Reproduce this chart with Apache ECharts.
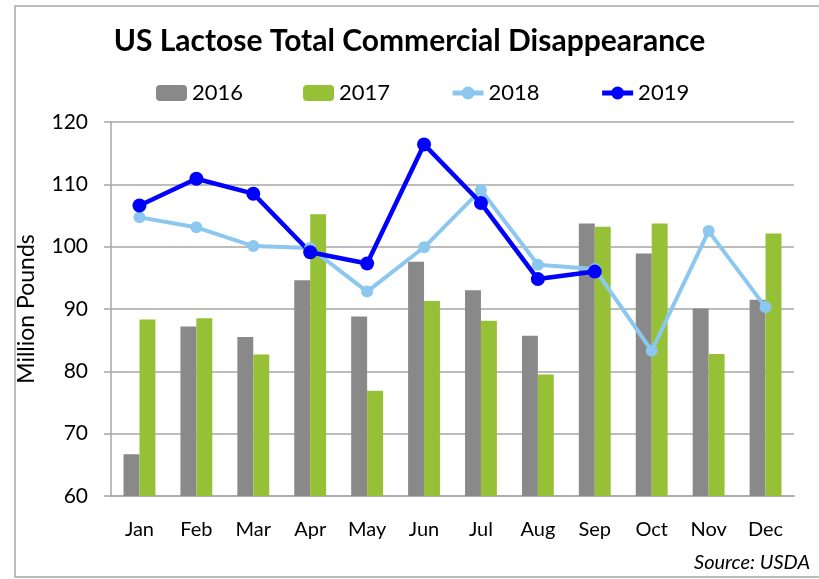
<!DOCTYPE html>
<html lang="en">

<head>
  <meta charset="UTF-8">
  <title>US Lactose Total Commercial Disappearance</title>
  <script src="https://cdn.jsdelivr.net/npm/echarts@6/dist/echarts.min.js"></script>
  <style>
    html, body { margin: 0; padding: 0; background: #fff; }
    #echarts { width: 819px; height: 579px; }
  </style>
</head>

<body>
  <div id="echarts"></div>
</body>

</html>
<script>
  // data (million pounds)
  let months = ['Jan', 'Feb', 'Mar', 'Apr', 'May', 'Jun', 'Jul', 'Aug', 'Sep', 'Oct', 'Nov', 'Dec'];
  let y2016 = [66.7, 87.2, 85.5, 94.6, 88.8, 97.6, 93.0, 85.7, 103.7, 98.9, 90.1, 91.5];
  let y2017 = [88.3, 88.5, 82.7, 105.2, 76.9, 91.3, 88.1, 79.5, 103.2, 103.7, 82.8, 102.1];
  let y2018 = [104.7, 103.1, 100.1, 99.8, 92.8, 99.9, 109.1, 97.1, 96.4, 83.3, 102.5, 90.3];
  let y2019 = [106.6, 110.9, 108.5, 99.1, 97.3, 116.4, 107.0, 94.8, 96.0];
  let yTicks = [60, 70, 80, 90, 100, 110, 120];

  let font = 'Lato, "Open Sans", sans-serif';
  let myChart = echarts.init(document.getElementById('echarts'));

  myChart.setOption({
    animation: false,
    textStyle: { fontFamily: font, color: '#000' },
    title: {
      text: 'US Lactose Total Commercial Disappearance',
      left: 'center',
      top: 21,
      textStyle: { fontSize: 30, fontWeight: 'bold', color: '#000', fontFamily: font }
    },
    legend: {
      top: 77,
      left: 151,
      itemWidth: 31,
      itemHeight: 16,
      itemGap: 60,
      lineStyle: { width: 5 },
      textStyle: { fontSize: 22, color: '#000', fontFamily: font },
      data: ['2016', '2017', '2018', '2019']
    },
    graphic: [{
      type: 'rect',
      shape: { x: 15, y: 6, width: 830, height: 571 },
      style: { fill: 'none', stroke: '#a6a6a6', lineWidth: 1.5 },
      silent: true
    }, {
      type: 'text',
      right: 9,
      top: 553,
      style: { text: 'Source: USDA', fontSize: 20, fontStyle: 'italic', fontFamily: font, fill: '#000' }
    }],
    grid: { left: 111, right: 25, top: 122, bottom: 83 },
    xAxis: {
      type: 'category',
      data: months,
      axisLine: { lineStyle: { color: '#a6a6a6', width: 1.5 } },
      axisTick: { length: 8, lineStyle: { color: '#a6a6a6', width: 1.5 } },
      axisLabel: { fontSize: 20, color: '#000', margin: 24, fontFamily: font }
    },
    yAxis: {
      type: 'value',
      min: yTicks[0],
      max: yTicks[yTicks.length - 1],
      interval: 10,
      name: 'Million Pounds',
      nameLocation: 'middle',
      nameGap: 73,
      nameTextStyle: { fontSize: 23, color: '#000', fontFamily: font },
      axisLine: { show: true, lineStyle: { color: '#a6a6a6', width: 1.5 } },
      axisTick: { show: true, length: 7, lineStyle: { color: '#a6a6a6', width: 1.5 } },
      axisLabel: { fontSize: 21, color: '#000', margin: 23, fontFamily: font },
      splitLine: { lineStyle: { color: '#a6a6a6', width: 1.5 } }
    },
    series: [{
      name: '2016',
      type: 'bar',
      data: y2016,
      barGap: '0%',
      barCategoryGap: '44%',
      itemStyle: { color: '#898989' }
    }, {
      name: '2017',
      type: 'bar',
      data: y2017,
      barGap: '0%',
      barCategoryGap: '44%',
      itemStyle: { color: '#96c137' }
    }, {
      name: '2018',
      type: 'line',
      data: y2018,
      symbol: 'circle',
      symbolSize: 12,
      lineStyle: { color: '#8bc7ee', width: 4 },
      itemStyle: { color: '#8bc7ee' }
    }, {
      name: '2019',
      type: 'line',
      data: y2019,
      symbol: 'circle',
      symbolSize: 14,
      lineStyle: { color: '#0000ff', width: 4.5 },
      itemStyle: { color: '#0000ff' }
    }]
  });
</script>
